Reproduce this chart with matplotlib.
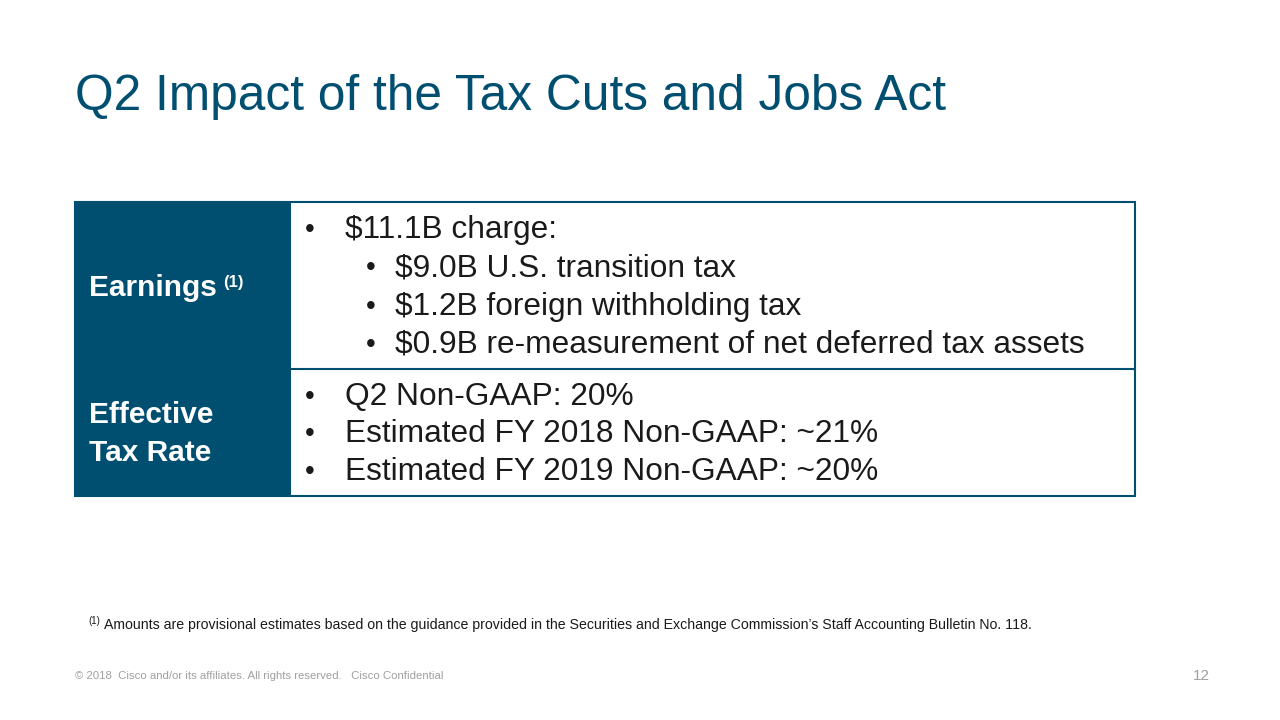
import matplotlib.pyplot as plt
from matplotlib.patches import Rectangle

plt.rcParams["font.family"] = ["Liberation Sans", "DejaVu Sans"]

TITLE = "Q2 Impact of the Tax Cuts and Jobs Act"
ROW_LABELS = [["Earnings"], ["Effective", "Tax Rate"]]
EARNINGS_LINES = [
    (0, "$11.1B charge:"),
    (1, "$9.0B U.S. transition tax"),
    (1, "$1.2B foreign withholding tax"),
    (1, "$0.9B re-measurement of net deferred tax assets"),
]
RATE_LINES = [
    (0, "Q2 Non-GAAP: 20%"),
    (0, "Estimated FY 2018 Non-GAAP: ~21%"),
    (0, "Estimated FY 2019 Non-GAAP: ~20%"),
]
FOOTNOTE = ("Amounts are provisional estimates based on the guidance provided in the Securities "
            "and Exchange Commission\u2019s Staff Accounting Bulletin No. 118.")
FOOTER = "\u00a9 2018  Cisco and/or its affiliates. All rights reserved.   Cisco Confidential"
PAGE = "12"

BLUE = "#004f71"
TEXT = "#1a1a1a"

fig = plt.figure(figsize=(12.8, 7.2), dpi=100)
ax = fig.add_axes([0, 0, 1, 1])
ax.set_xlim(0, 1280)
ax.set_ylim(720, 0)
ax.axis("off")

ax.text(75, 97, TITLE, fontsize=35.7, color=BLUE, va="center", ha="left")

# table
ax.add_patch(Rectangle((75, 202), 216, 294, facecolor=BLUE, edgecolor="none"))
ax.add_patch(Rectangle((75, 202), 1060, 294, facecolor="none", edgecolor=BLUE, lw=1.5))
ax.plot([291, 1135], [369, 369], color=BLUE, lw=1.5)

ax.text(89, 288, ROW_LABELS[0][0], fontsize=21.5, fontweight="bold", color="white", va="center")
ax.text(223, 282, "(1)", fontsize=12, fontweight="bold", color="white", va="center")
for i, s in enumerate(ROW_LABELS[1]):
    ax.text(89, 415 + i * 38, s, fontsize=21.5, fontweight="bold", color="white", va="center")

def bullets(lines, y0, dy):
    for i, (lvl, s) in enumerate(lines):
        bx = 305 if lvl == 0 else 366
        tx = 345 if lvl == 0 else 395
        y = y0 + i * dy
        ax.text(bx, y, "\u2022", fontsize=20, color=TEXT, va="center")
        ax.text(tx, y, s, fontsize=22.8, color=TEXT, va="center")

bullets(EARNINGS_LINES, 230, 38.3)
bullets(RATE_LINES, 397, 37.5)

ax.text(88, 621, "(1)", fontsize=7, color=TEXT, va="center")
ax.text(104, 625, FOOTNOTE, fontsize=10.2, color=TEXT, va="center")
ax.text(75, 676, FOOTER, fontsize=8.2, color="#a0a0a0", va="center")
ax.text(1210, 676, PAGE, fontsize=11, color="#a0a0a0", va="center", ha="right")

fig.savefig("out.png", dpi=100)
